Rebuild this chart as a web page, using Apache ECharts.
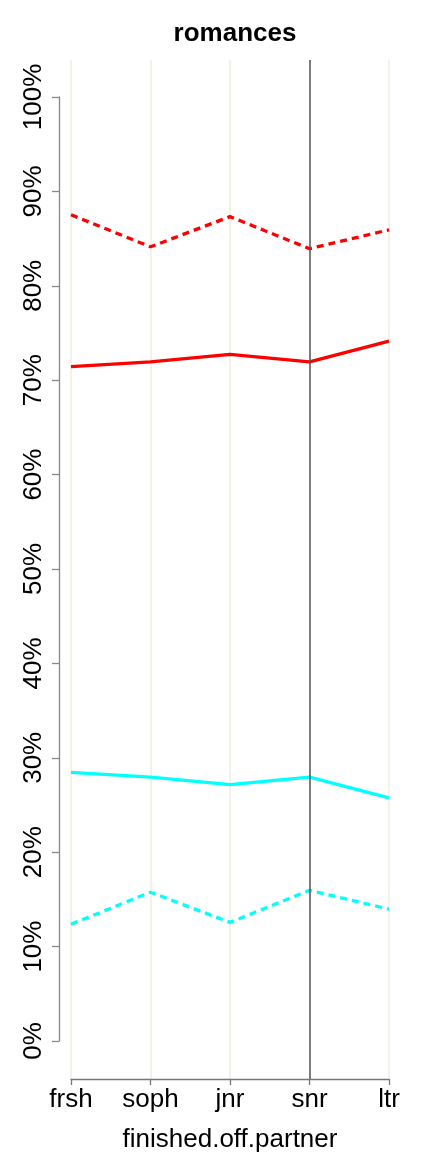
<!DOCTYPE html>
<html>
<head>
<meta charset="utf-8">
<script src="https://cdn.jsdelivr.net/npm/echarts@6/dist/echarts.min.js"></script>
<style>
html,body{margin:0;padding:0;background:#fff;}
#chart{width:432px;height:1152px;}
</style>
</head>
<body>
<div id="chart"></div>
<script>
const categories = ['frsh', 'soph', 'jnr', 'snr', 'ltr'];
const redSolid = [71.5, 72.0, 72.8, 72.0, 74.2];
const redDashed = [87.6, 84.2, 87.4, 84.0, 86.0];
const cyanSolid = [28.5, 28.0, 27.2, 28.0, 25.8];
const cyanDashed = [12.4, 15.8, 12.6, 16.0, 14.0];
const yTicks = [0, 10, 20, 30, 40, 50, 60, 70, 80, 90, 100];
const markerCategory = 'snr';
const titleText = 'romances';
const xName = 'finished.off.partner';

const FONT = '"Liberation Sans", Arial, Helvetica, sans-serif';
const chart = echarts.init(document.getElementById('chart'), null, {renderer: 'canvas'});

function mkSeries(data, color, dashed) {
  return {
    type: 'line', xAxisIndex: 0, yAxisIndex: 0, data: data,
    symbol: 'none', silent: true,
    lineStyle: {color: color, width: 3.3, type: dashed ? [7, 5] : 'solid', cap: 'butt'}
  };
}

const option = {
  animation: false,
  backgroundColor: '#ffffff',
  title: {
    text: titleText, left: 230, textAlign: 'center', top: 16,
    textStyle: {fontFamily: FONT, fontSize: 26, fontWeight: 'bold', color: '#000'}
  },
  grid: [
    {left: 71, right: 43, top: 60, bottom: 73, containLabel: false, outerBoundsMode: 'none'},
    {left: 59, right: 43, top: 97, bottom: 111, containLabel: false, outerBoundsMode: 'none'}
  ],
  xAxis: [
    {
      type: 'category', gridIndex: 0, data: categories, boundaryGap: false,
      axisLine: {show: true, onZero: false, lineStyle: {color: '#777', width: 1.3}},
      axisTick: {show: true, length: 6, inside: false, lineStyle: {color: '#777', width: 1.3}},
      axisLabel: {fontFamily: FONT, fontSize: 26, color: '#000', margin: 8},
      splitLine: {show: true, lineStyle: {color: '#f0eedf', width: 1.5}},
      name: xName, nameLocation: 'middle', nameGap: 48,
      nameTextStyle: {fontFamily: FONT, fontSize: 26, color: '#000'}
    },
    {type: 'category', gridIndex: 1, data: categories, show: false}
  ],
  yAxis: [
    {type: 'value', gridIndex: 0, min: -4, max: 104, show: false, splitLine: {show: false}},
    {
      type: 'value', gridIndex: 1, min: 0, max: 100, interval: 10,
      axisLine: {show: true, onZero: false, lineStyle: {color: '#888', width: 1.3}},
      axisTick: {show: true, length: 7, lineStyle: {color: '#888', width: 1.3}},
      axisLabel: {
        fontFamily: FONT, fontSize: 26, color: '#000', rotate: 90, margin: 12,
        formatter: function (v) { return yTicks.indexOf(v) >= 0 ? v + '%' : ''; }
      },
      splitLine: {show: false}
    }
  ],
  series: [
    {
      type: 'line', xAxisIndex: 0, yAxisIndex: 0, data: [], silent: true,
      markLine: {
        silent: true, symbol: 'none', label: {show: false},
        lineStyle: {color: '#555', width: 1.5, type: 'solid'},
        data: [{xAxis: markerCategory}]
      }
    },
    mkSeries(redDashed, '#ff0000', true),
    mkSeries(redSolid, '#ff0000', false),
    mkSeries(cyanSolid, '#00ffff', false),
    mkSeries(cyanDashed, '#00ffff', true)
  ]
};
chart.setOption(option);
</script>
</body>
</html>
